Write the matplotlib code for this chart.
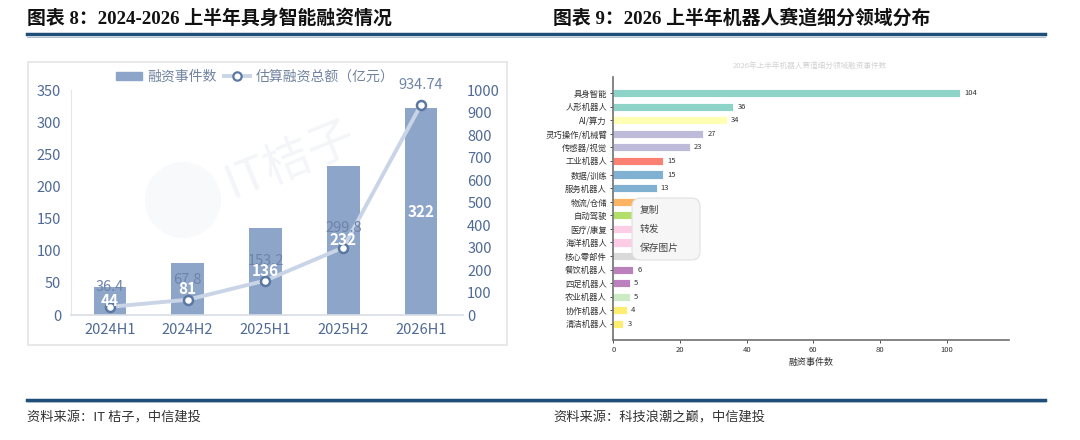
import matplotlib
matplotlib.use('Agg')
import matplotlib.pyplot as plt
from matplotlib.patches import Rectangle, FancyBboxPatch, Ellipse
from matplotlib.lines import Line2D
import numpy as np

# ---------------- data ----------------
periods = ['2024H1', '2024H2', '2025H1', '2025H2', '2026H1']
event_counts = [44, 81, 136, 232, 322]
amounts = [36.4, 67.8, 153.2, 299.8, 934.74]
amount_labels = ['36.4', '67.8', '153.2', '299.8', '934.74']
left_ticks = [0, 50, 100, 150, 200, 250, 300, 350]
right_ticks = [0, 100, 200, 300, 400, 500, 600, 700, 800, 900, 1000]

segments = ['具身智能', '人形机器人', 'AI/算力', '灵巧操作/机械臂', '传感器/视觉',
            '工业机器人', '数据/训练', '服务机器人', '物流/仓储', '自动驾驶',
            '医疗/康复', '海洋机器人', '核心零部件', '餐饮机器人', '四足机器人',
            '农业机器人', '协作机器人', '清洁机器人']
segment_counts = [104, 36, 34, 27, 23, 15, 15, 13, 10, 9, 8, 8, 7, 6, 5, 5, 4, 3]
segment_colors = ['#8dd3c7', '#8dd3c7', '#ffffb3', '#bebada', '#bebada',
                  '#fb8072', '#80b1d3', '#80b1d3', '#fdb462', '#b3de69',
                  '#fccde5', '#fccde5', '#d9d9d9', '#bc80bd', '#bc80bd',
                  '#ccebc5', '#ffed6f', '#ffed6f']
# value labels of these rows are hidden under the screenshot's context menu
hidden_rows = ['物流/仓储', '自动驾驶', '医疗/康复', '海洋机器人', '核心零部件']
seg_xticks = [0, 20, 40, 60, 80, 100]

# ---------------- setup ----------------
plt.rcParams['font.family'] = ['Noto Sans CJK SC', 'DejaVu Sans']
W, H = 1080, 440
fig = plt.figure(figsize=(W / 100, H / 100), dpi=100)
fig.patch.set_facecolor('white')


def fx(p):
    return p / W


def fy(p):
    return 1 - p / H


TITLE_FAMILY = ['Liberation Serif', 'Noto Sans CJK SC', 'DejaVu Sans']
fig.text(fx(27), fy(18), '图表 8：2024-2026 上半年具身智能融资情况', family=TITLE_FAMILY,
         weight='bold', size=13.6, va='center', ha='left', color='#111111')
fig.text(fx(553), fy(18), '图表 9：2026 上半年机器人赛道细分领域分布', family=TITLE_FAMILY,
         weight='bold', size=13.6, va='center', ha='left', color='#111111')

# rules
fig.add_artist(Line2D([fx(27), fx(1045)], [fy(34.5)] * 2, color='#1f4e79', lw=2.5))
fig.add_artist(Line2D([fx(27), fx(1045)], [fy(36.8)] * 2, color='#9fb3c8', lw=0.6))
fig.add_artist(Line2D([fx(27), fx(1045)], [fy(400)] * 2, color='#1f4e79', lw=2.5))
fig.add_artist(Line2D([fx(27), fx(1045)], [fy(402.3)] * 2, color='#9fb3c8', lw=0.6))

# footers
fig.text(fx(27), fy(418), '资料来源：IT 桔子，中信建投', size=9.5, style='italic',
         color='#333333', va='center', ha='left')
fig.text(fx(553), fy(418), '资料来源：科技浪潮之巅，中信建投', size=9.5, style='italic',
         color='#333333', va='center', ha='left')

# ---------------- left chart ----------------
frame = Rectangle((fx(28), fy(345)), fx(507) - fx(28), fy(62) - fy(345),
                  transform=fig.transFigure, fc='white', ec='#e6e6e6', lw=1.3, zorder=-1)
fig.add_artist(frame)

ax1 = fig.add_axes([fx(71), fy(315), fx(463) - fx(71), fy(90) - fy(315)])
ax1.set_facecolor('none')
x = np.arange(len(periods))
BAR_C = '#8da5c8'
ax1.bar(x, event_counts, width=0.42, color=BAR_C, zorder=2)
ax1.set_ylim(0, 350)
ax1.set_xlim(-0.5, 4.54)
ax1.set_yticks(left_ticks)
ax1.set_xticks(x, periods)
ax1.tick_params(axis='y', length=0, colors='#4f6a94', labelsize=10.5, pad=7)
ax1.tick_params(axis='x', length=0, colors='#4f6a94', labelsize=10.5, pad=6)
for s in ['top', 'right']:
    ax1.spines[s].set_visible(False)
ax1.spines['left'].set_color('#e6e6e6')
ax1.spines['bottom'].set_color('#d8dde5')
ax1.spines['bottom'].set_linewidth(1.2)

# faint watermark
ax1.add_patch(Ellipse((fx(183), fy(200)), fx(76), 76 / H, transform=fig.transFigure,
                      fc='#f8f9fb', ec='none', zorder=0.5))
ax1.text(fx(290), fy(160), 'IT桔子', transform=fig.transFigure, rotation=22,
         size=34, color='#f3f5f8', ha='center', va='center', zorder=0.6)

ax2 = ax1.twinx()
ax2.set_ylim(0, 1000)
ax2.set_yticks(right_ticks)
ax2.tick_params(axis='y', length=0, colors='#4f6a94', labelsize=10.5, pad=3)
for s in ax2.spines.values():
    s.set_visible(False)
ax2.plot(x, amounts, color='#c9d5e7', lw=2.8, marker='o', ms=6.5, mfc='white',
         mec='#5b78a2', mew=1.8, zorder=3)
for xi, v, lab in zip(x, amounts, amount_labels):
    ax2.annotate(lab, (xi, v), xytext=(0, 14), textcoords='offset points',
                 ha='center', va='center', color='#6d84a8', fontsize=10.5, zorder=4)
for xi, c in zip(x, event_counts):
    ax2.text(xi, c / 2, str(c), transform=ax1.transData, ha='center', va='center',
             color='white', fontweight='bold', fontsize=11, zorder=5)

handles = [Rectangle((0, 0), 1, 1, color=BAR_C),
           Line2D([0], [0], color='#c9d5e7', lw=2.8, marker='o', ms=6, mfc='white',
                  mec='#5b78a2', mew=1.6)]
fig.legend(handles, ['融资事件数', '估算融资总额（亿元）'], loc='center',
           bbox_to_anchor=(fx(255), fy(77)), ncol=2, frameon=False, fontsize=10,
           labelcolor='#71839f', handlelength=1.9, handleheight=0.55,
           columnspacing=0.5, handletextpad=0.4)

# ---------------- right chart ----------------
fig.text(fx(810), fy(66), '2026年上半年机器人赛道细分领域融资事件数', size=5.5,
         color='#d2d2d2', ha='center', va='center')

ax3 = fig.add_axes([fx(613.3), fy(340), fx(1009) - fx(613.3), fy(77) - fy(340)])
yy = np.arange(len(segments))
hb = ax3.barh(yy, segment_counts, height=0.6, color=segment_colors,
              edgecolor='white', linewidth=0.6)
ax3.invert_yaxis()
ax3.set_xlim(0, 118.7)
ax3.set_yticks(yy, segments)
ax3.set_xticks(seg_xticks)
ax3.tick_params(axis='y', labelsize=6, colors='#333333', length=2.5, width=0.6, pad=2)
ax3.tick_params(axis='x', labelsize=5.5, colors='#333333', length=2.5, width=0.6, pad=2)
value_labels = ['' if s in hidden_rows else str(v) for s, v in zip(segments, segment_counts)]
ax3.bar_label(hb, labels=value_labels, padding=3, fontsize=5.5, color='#333333')
ax3.set_xlabel('融资事件数', fontsize=6.5, color='#333333', labelpad=3)
for s in ['top', 'right']:
    ax3.spines[s].set_visible(False)
for s in ['left', 'bottom']:
    ax3.spines[s].set_color('#6f6f6f')
    ax3.spines[s].set_linewidth(1.2)

# context-menu overlay seen in the screenshot
menu = FancyBboxPatch((fx(632), fy(260)), fx(700) - fx(632), fy(198) - fy(260),
                      boxstyle='round,pad=0,rounding_size=0.008', mutation_aspect=W / H,
                      transform=fig.transFigure, fc='#f6f6f6', ec='#e0e0e0', lw=0.8,
                      zorder=10)
fig.add_artist(menu)
for py, t in [(210, '复制'), (229, '转发'), (248, '保存图片')]:
    fig.text(fx(640), fy(py), t, size=7, color='#444444', ha='left', va='center', zorder=11)

fig.savefig('out.png', dpi=100, facecolor='white')
